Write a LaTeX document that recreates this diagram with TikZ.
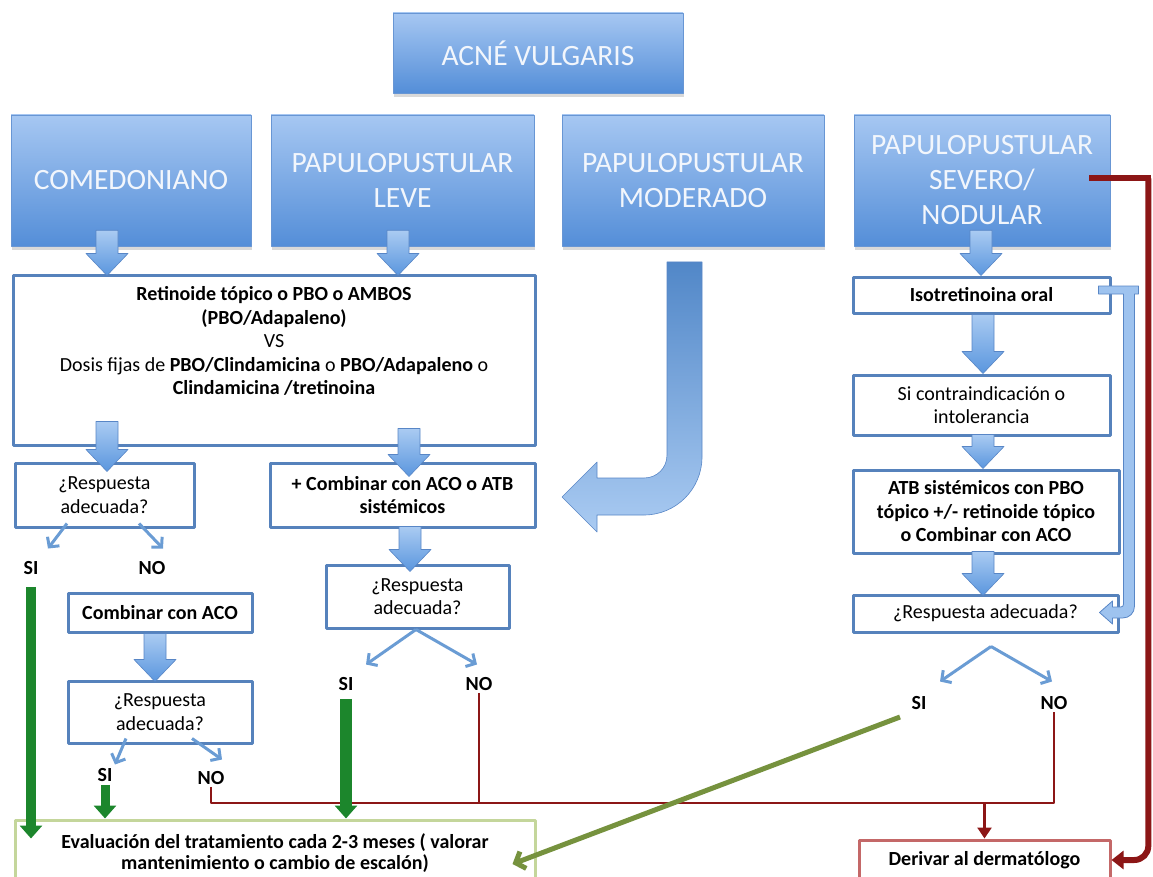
\documentclass[tikz,border=0pt]{standalone}
\usepackage{fontspec}
\setmainfont{Carlito}
\usepackage{xcolor}
\usetikzlibrary{arrows.meta,calc,shadows}

\definecolor{boxtop}{RGB}{166,199,242}
\definecolor{boxbot}{RGB}{84,142,216}
\definecolor{boxedge}{RGB}{104,150,212}
\definecolor{titletext}{RGB}{242,246,252}
\definecolor{boxline}{RGB}{86,130,188}
\definecolor{arrtop}{RGB}{170,203,242}
\definecolor{arrbot}{RGB}{90,150,222}
\definecolor{arredge}{RGB}{88,134,198}
\definecolor{thinblue}{RGB}{106,156,212}
\definecolor{darkred}{RGB}{140,22,22}
\definecolor{okgreen}{RGB}{28,134,44}
\definecolor{olive}{RGB}{118,146,62}
\definecolor{evalline}{RGB}{196,214,155}
\definecolor{derivline}{RGB}{196,104,104}

\newcommand\titlefont{\fontsize{29.5}{35}\selectfont}
\newcommand\bodyfont{\fontsize{20}{23.5}\selectfont}

% block arrow pointing down: x, from node, to node, reach into from, tip depth
\newcommand\blockdown[5]{%
  \shadedraw[blockarrow] let \p1=(#2.south), \p2=(#3.north) in
    (#1pt-11pt,\y1+#4pt) -- (#1pt-11pt,\y2-#5pt+22pt) -- (#1pt-21pt,\y2-#5pt+22pt)
    -- (#1pt,\y2-#5pt) -- (#1pt+21pt,\y2-#5pt+22pt) -- (#1pt+11pt,\y2-#5pt+22pt)
    -- (#1pt+11pt,\y1+#4pt) -- cycle;}

\begin{document}
\begin{tikzpicture}[x=1pt, y=-1pt, line join=round,
  bluebox/.style={draw=boxedge, line width=0.6pt, top color=boxtop, bottom color=boxbot,
    text=titletext, font=\titlefont, align=center, inner sep=0pt,
    drop shadow={shadow xshift=1pt, shadow yshift=-4pt, opacity=0.3}},
  outbox/.style={draw=boxline, line width=3pt, fill=white, align=center, inner sep=0pt, font=\bodyfont},
  bodytext/.style={align=center, inner sep=0pt, font=\bodyfont},
  evalbox/.style={draw=evalline, line width=3pt, fill=white, align=center, inner sep=0pt,
    font=\fontsize{20}{21}\selectfont\bfseries},
  derivbox/.style={draw=derivline, line width=3pt, fill=white, align=center, inner sep=0pt,
    font=\bodyfont\bfseries},
  yesno/.style={font=\bodyfont\bfseries, inner sep=2pt},
  blockarrow/.style={draw=arredge, line width=0.6pt, top color=arrtop, bottom color=arrbot},
  curvearrow/.style={draw=arredge, line width=0.6pt, top color=arrbot!90!black, bottom color=arrtop},
  retarrow/.style={draw=arredge, line width=0.8pt, fill=arrtop!85!arrbot},
  thinarrow/.style={thinblue, line width=3pt, -{Straight Barb[length=7pt,width=15pt]}},
  greenarrow/.style={okgreen, line width=10pt, -{Triangle[length=13pt,width=22pt]}},
  olivearrow/.style={olive, line width=5pt, -{Straight Barb[length=8pt,width=18pt]}},
  redline/.style={darkred, line width=2.5pt},
  redthick/.style={darkred, line width=6pt}]
\useasboundingbox (0,0) rectangle (1153,877);

% top level
\node[bluebox, minimum width=290pt, minimum height=80pt] (acne) at (538,53) {ACNÉ VULGARIS};
\node[bluebox, minimum width=240pt, minimum height=131pt] (comedo) at (131,180.5) {COMEDONIANO};
\node[bluebox, minimum width=263pt, minimum height=131pt] (leve) at (402.5,180.5) {PAPULOPUSTULAR\\LEVE};
\node[bluebox, minimum width=262pt, minimum height=131pt] (moder) at (693,180.5) {PAPULOPUSTULAR\\MODERADO};
\node[bluebox, minimum width=256pt, minimum height=131pt] (severo) at (982,180.5) {PAPULOPUSTULAR\\SEVERO/\\NODULAR};

% left branch
\node[outbox, minimum width=522pt, minimum height=170pt] (main) at (274,360) {};
\node[bodytext, anchor=north] (maintxt) at ($(main.north)+(0,13)$)
  {\textbf{Retinoide tópico o PBO o AMBOS}\\ \textbf{(PBO/Adapaleno)}\\ VS\\
   Dosis fijas de \textbf{PBO/Clindamicina} o \textbf{PBO/Adapaleno} o\\
   \textbf{Clindamicina /tretinoina}};
\node[outbox, minimum width=179pt, minimum height=64pt] (resp1) at (104.5,495) {¿Respuesta\\adecuada?};
\node[outbox, minimum width=265pt, minimum height=64pt, font=\bodyfont\bfseries] (combi) at (402.5,495) {+ Combinar con ACO o ATB\\sistémicos};
\node[outbox, minimum width=183pt, minimum height=63pt] (resp2) at (417.5,596.5) {¿Respuesta\\adecuada?};
\node[outbox, minimum width=184pt, minimum height=39pt, font=\bodyfont\bfseries] (aco) at (160,612.5) {Combinar con ACO};
\node[outbox, minimum width=184pt, minimum height=62pt] (resp3) at (160,712) {¿Respuesta\\adecuada?};

% right branch
\node[outbox, minimum width=257pt, minimum height=36pt, font=\bodyfont\bfseries] (iso) at (981.5,295) {Isotretinoina oral};
\node[outbox, minimum width=257pt, minimum height=60pt] (sicontra) at (981.5,405) {Si contraindicación o\\intolerancia};
\node[outbox, minimum width=266pt, minimum height=83pt, font=\bodyfont\bfseries] (atb) at (986,511.5) {ATB sistémicos con PBO\\tópico +/- retinoide tópico\\o Combinar con ACO};
\node[outbox, minimum width=265pt, minimum height=37pt] (respR) at (985.5,613.5) {¿Respuesta adecuada?};

% answers
\node[yesno] (si1) at (31,568) {SI};
\node[yesno] (no1) at (152,568) {NO};
\node[yesno] (si2) at (346,684) {SI};
\node[yesno] (no2) at (479,684) {NO};
\node[yesno] (si3) at (105,775) {SI};
\node[yesno] (no3) at (211,778) {NO};
\node[yesno] (si4) at (919,703) {SI};
\node[yesno] (no4) at (1054,703) {NO};

% outcomes
\node[evalbox, minimum width=520pt, minimum height=66pt] (eval) at (275,853)
  {Evaluación del tratamiento cada 2-3 meses ( valorar\\mantenimiento o cambio de escalón)};
\node[derivbox, minimum width=251pt, minimum height=40pt] (deriv) at (984.5,860) {Derivar al dermatólogo};

% block arrows
\blockdown{107}{comedo}{main}{16}{2}
\blockdown{398}{leve}{main}{16}{2}
\blockdown{107}{main}{resp1}{25}{10}
\blockdown{409}{main}{combi}{18}{15}
\blockdown{410}{combi}{resp2}{2}{8}
\blockdown{155}{aco}{resp3}{0}{2}
\blockdown{981}{severo}{iso}{16}{0}
\blockdown{983}{iso}{sicontra}{0}{0}
\blockdown{983}{sicontra}{atb}{2}{0}
\blockdown{983}{atb}{respR}{3}{2}

% moderado bends into the combination box
\shadedraw[curvearrow] (667,262) -- (702,262) -- (702,457) .. controls (702,489) and (676,515) .. (644,515)
  -- (597,515) -- (597,532) -- (562,497) -- (597,462) -- (597,478) -- (644,478)
  .. controls (657,478) and (667,468) .. (667,455) -- cycle;

% return from isotretinoina to the answer box
\filldraw[retarrow] ($(iso.east)+(-13,-9)$) -- ++(40,0) -- ++(0,8) -- ++(-4,0)
  -- ($(respR.east)+(15,-7.5)$) .. controls +(0,7) and +(7,0) .. ++(-12,12)
  -- ++(-10,0) -- ++(0,6) -- ++(-13,-11.5) -- ++(13,-11.5) -- ++(0,6) -- ++(8,0)
  .. controls +(2,0) and +(0,2) .. ++(3,-3) -- ($(iso.east)+(12,-1)$) -- ++(-25,0) -- cycle;

% thin answer arrows
\draw[thinarrow] ($(resp1.south)+(-37.5,-5)$) -- ($(resp1.south)+(-56.5,20)$);
\draw[thinarrow] ($(resp1.south)+(34.5,-5)$) -- ($(resp1.south)+(58.5,20)$);
\draw[thinarrow] ($(resp2.south)+(-1.5,0)$) -- ($(resp2.south)+(-51.5,35)$);
\draw[thinarrow] ($(resp2.south)+(-1.5,0)$) -- ($(resp2.south)+(59.5,35)$);
\draw[thinarrow] ($(resp3.south)+(-34,-6)$) -- ($(resp3.south)+(-45,20)$);
\draw[thinarrow] ($(resp3.south)+(32,-6)$) -- ($(resp3.south)+(62,15)$);
\draw[thinarrow] ($(respR.south)+(5.5,13)$) -- ($(respR.south)+(-45.5,48)$);
\draw[thinarrow] ($(respR.south)+(5.5,13)$) -- ($(respR.south)+(66.5,48)$);

% red: no answers lead to the dermatologist
\coordinate (bus) at (0,803);
\draw[redline] (no3.south) -- (no3.south |- bus) -- (no4.south |- bus) -- (no4.south);
\draw[redline] (no2.south) -- (no2.south |- bus);
\draw[redline, -{Triangle[length=11pt,width=14pt]}] (deriv.north |- bus) -- (deriv.north);
\coordinate (redturn) at ($(severo.east)+(38,-2)$);
\draw[redthick] ($(severo.east)+(-21,-2)$) -- ($(redturn)+(3,0)$);
\draw[redthick, rounded corners=14pt, -{Triangle[length=12pt,width=18pt]}] (redturn) |- (deriv.east);

% green: yes answers go to evaluation
\coordinate (evaltip) at ([yshift=-20pt]eval.north);
\draw[greenarrow, shorten <=10pt] (si1.south) -- (si1.south |- evaltip);
\draw[greenarrow, line width=12pt, shorten <=6pt] (si2.south) -- (si2.south |- eval.north);
\draw[greenarrow, line width=9pt, shorten <=1pt] (si3.south) -- (si3.south |- eval.north);
\draw[olivearrow] ($(si4.center)+(-19,14)$) -- ($(eval.east)+(-24,11)$);
\end{tikzpicture}
\end{document}
